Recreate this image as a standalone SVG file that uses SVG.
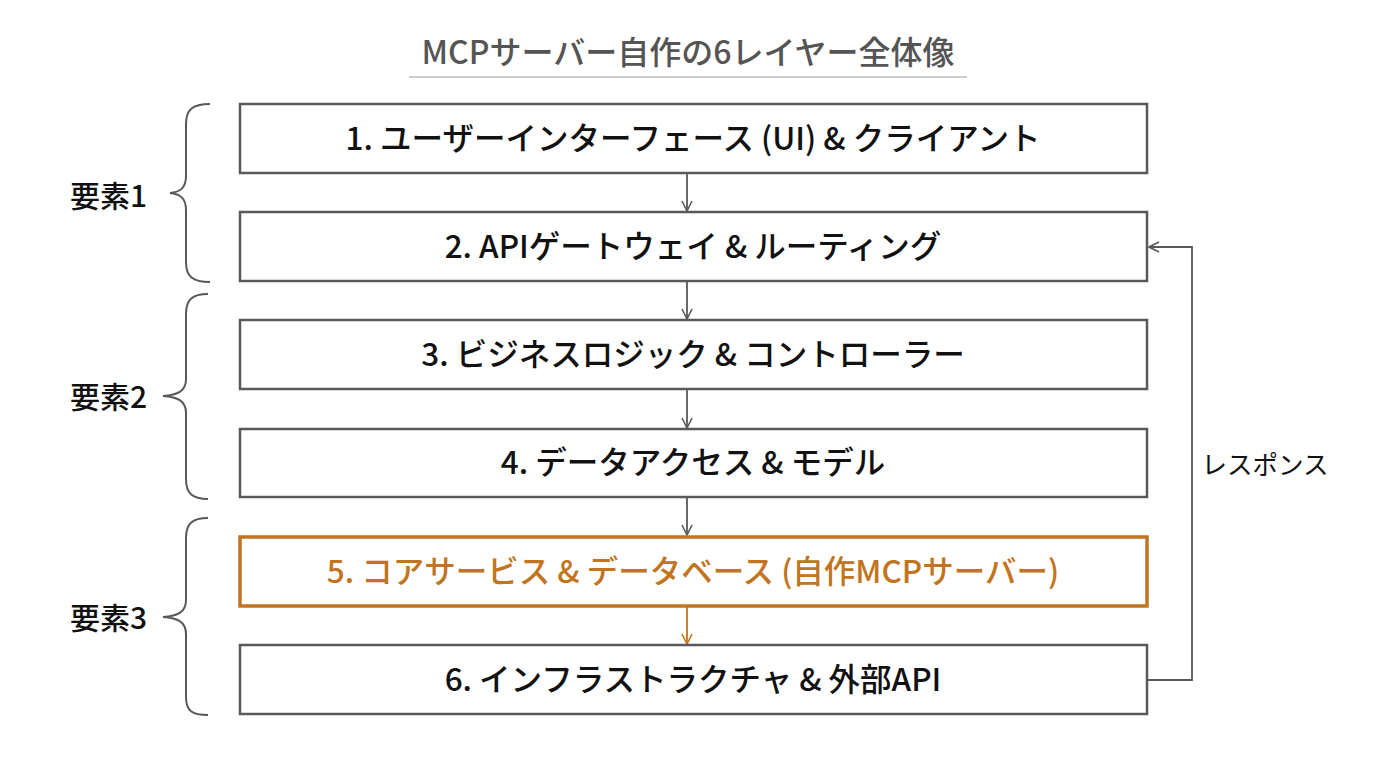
<svg xmlns="http://www.w3.org/2000/svg" width="1376" height="768" viewBox="0 0 1376 768">
<defs>
<style>
text{font-family:"Noto Sans CJK JP","Noto Sans",sans-serif;}
.box{fill:#fff;stroke:#58595b;stroke-width:2.5;}
.hl{fill:#fff;stroke:#C27420;stroke-width:3.5;}
.bt{font-size:31.5px;font-weight:500;fill:#111;text-anchor:middle;}
.ht{font-size:31.5px;font-weight:500;fill:#C27420;text-anchor:middle;}
.lbl{font-size:30px;font-weight:500;fill:#111;}
.br{fill:none;stroke:#58595b;stroke-width:2;}
.c{fill:none;stroke:#58595b;stroke-width:1.8;}
.co{fill:none;stroke:#C27420;stroke-width:1.8;}
</style>
<marker id="ah" viewBox="0 0 12 12" refX="11" refY="6" markerWidth="12" markerHeight="12" markerUnits="userSpaceOnUse" orient="auto"><path d="M1,1 L11,6 L1,11" fill="none" stroke="#58595b" stroke-width="1.6"/></marker>
<marker id="aho" viewBox="0 0 12 12" refX="11" refY="6" markerWidth="12" markerHeight="12" markerUnits="userSpaceOnUse" orient="auto"><path d="M1,1 L11,6 L1,11" fill="none" stroke="#C27420" stroke-width="1.6"/></marker>
</defs>
<rect width="1376" height="768" fill="#fff"/>
<g id="title">
<text x="688" y="64" font-size="32" fill="#555" text-anchor="middle" font-weight="500">MCPサーバー自作の6レイヤー全体像</text>
<line x1="409" y1="77" x2="967" y2="77" stroke="#bbb" stroke-width="1.5"/>
</g>
<g id="connectors">
<line class="c" x1="687" y1="173" x2="687" y2="211" marker-end="url(#ah)"/>
<line class="c" x1="687" y1="281" x2="687" y2="319" marker-end="url(#ah)"/>
<line class="c" x1="687" y1="389" x2="687" y2="428" marker-end="url(#ah)"/>
<line class="c" x1="687" y1="497" x2="687" y2="535" marker-end="url(#ah)"/>
<line class="co" x1="687" y1="607" x2="687" y2="644" marker-end="url(#aho)"/>
<polyline class="c" points="1148,680 1192,680 1192,247 1149,247" marker-end="url(#ah)"/>
<text x="1265" y="474" font-size="25.5" fill="#111" text-anchor="middle">レスポンス</text>
</g>
<g id="n1"><rect class="box" x="240" y="104" width="907" height="69"/><text class="bt" x="693" y="150">1. ユーザーインターフェース (UI) &amp; クライアント</text></g>
<g id="n2"><rect class="box" x="240" y="212" width="907" height="69"/><text class="bt" x="693" y="258">2. APIゲートウェイ &amp; ルーティング</text></g>
<g id="n3"><rect class="box" x="240" y="320" width="907" height="69"/><text class="bt" x="693" y="366">3. ビジネスロジック &amp; コントローラー</text></g>
<g id="n4"><rect class="box" x="240" y="429" width="907" height="68"/><text class="bt" x="693" y="474">4. データアクセス &amp; モデル</text></g>
<g id="n5"><rect class="hl" x="240" y="537" width="907" height="69"/><text class="ht" x="693" y="583">5. コアサービス &amp; データベース (自作MCPサーバー)</text></g>
<g id="n6"><rect class="box" x="240" y="645" width="907" height="69"/><text class="bt" x="693" y="691">6. インフラストラクチャ &amp; 外部API</text></g>
<g id="g1">
<path class="br" d="M210,104 C192,104 186,110 186,124 L186,176 C186,188 180,192 170,193 C180,194 186,198 186,210 L186,262 C186,276 192,282 210,282"/>
<text class="lbl" x="70" y="207">要素1</text>
</g>
<g id="g2">
<path class="br" d="M208,294 C192,294 186,300 186,314 L186,379 C186,391 178,395 163,396 C178,397 186,401 186,413 L186,479 C186,493 192,499 208,499"/>
<text class="lbl" x="70" y="408">要素2</text>
</g>
<g id="g3">
<path class="br" d="M208,518 C192,518 186,524 186,538 L186,600 C186,612 178,616 163,617 C178,618 186,622 186,634 L186,697 C186,711 192,715 208,715"/>
<text class="lbl" x="70" y="629">要素3</text>
</g>
</svg>
